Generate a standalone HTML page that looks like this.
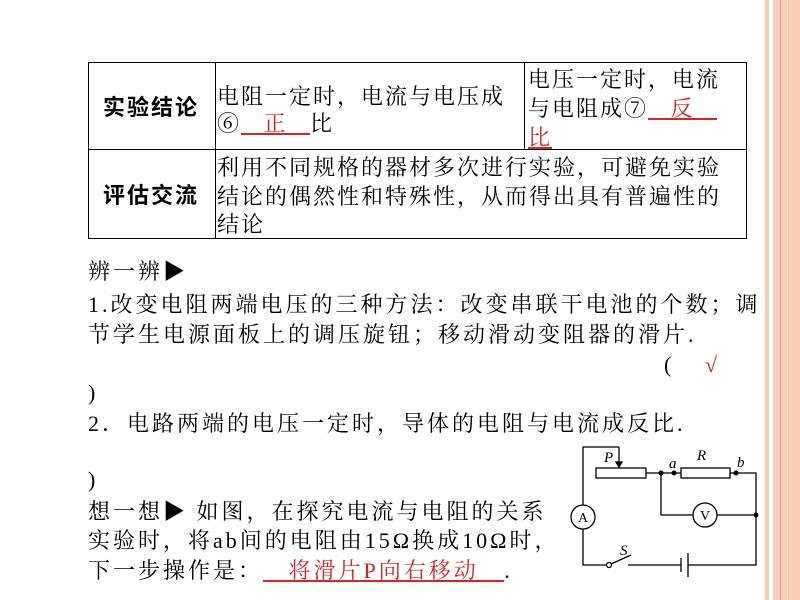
<!DOCTYPE html>
<html><head><meta charset="utf-8"><style>
body{margin:0;width:800px;height:600px;position:relative;background:#fff;overflow:hidden;font-family:"Liberation Serif","Noto Serif CJK SC","Noto Sans CJK SC",serif;color:#000}
.t{position:absolute;font-size:22px;line-height:26px;white-space:nowrap}
.s{letter-spacing:3px}
.c{letter-spacing:2px}
.b{font-family:"Liberation Sans","Noto Sans CJK SC",sans-serif;font-weight:bold;letter-spacing:2px}
.r{color:#d22;text-decoration:underline;text-decoration-color:#d22}
.ln{position:absolute;background:#000}
</style></head><body>
<div style="position:absolute;left:765px;top:0;width:4px;height:600px;background:#f9cdb9"></div>
<div style="position:absolute;left:773px;top:0;width:27px;height:600px;background:#f9cdb9"></div>
<div style="position:absolute;left:780px;top:0;width:1px;height:600px;background:#f0a070"></div>
<div style="position:absolute;left:787px;top:0;width:1px;height:600px;background:#fbe0d2"></div>

<div class="ln" style="left:88px;top:62px;width:659px;height:1px"></div>
<div class="ln" style="left:88px;top:149px;width:659px;height:1px"></div>
<div class="ln" style="left:88px;top:238px;width:659px;height:1px"></div>
<div class="ln" style="left:88px;top:62px;width:1px;height:177px"></div>
<div class="ln" style="left:215px;top:62px;width:1px;height:177px"></div>
<div class="ln" style="left:524px;top:62px;width:1px;height:88px"></div>
<div class="ln" style="left:746px;top:62px;width:1px;height:177px"></div>

<div class="t b" style="left:103px;top:95px">实验结论</div>
<div class="t b" style="left:103px;top:183px">评估交流</div>
<div class="t c" style="left:217px;top:84px">电阻一定时，电流与电压成</div>
<div class="t c" style="left:217px;top:111px">⑥<span class="r">&nbsp;&nbsp;&nbsp;正&nbsp;&nbsp;&nbsp;</span>比</div>
<div class="t c" style="left:528px;top:67px">电压一定时，电流</div>
<div class="t c" style="left:528px;top:96px">与电阻成⑦<span class="r">&nbsp;&nbsp;&nbsp;反&nbsp;&nbsp;&nbsp;</span></div>
<div class="t c" style="left:528px;top:125px"><span class="r">比</span></div>
<div class="t c" style="left:217px;top:155px">利用不同规格的器材多次进行实验，可避免实验</div>
<div class="t c" style="left:217px;top:184px">结论的偶然性和特殊性，从而得出具有普遍性的</div>
<div class="t c" style="left:217px;top:212px">结论</div>

<div class="t s" style="left:88px;top:259px">辨一辨▶</div>
<div class="t s" style="left:88px;top:292px">1.改变电阻两端电压的三种方法：改变串联干电池的个数；调</div>
<div class="t s" style="left:88px;top:322px">节学生电源面板上的调压旋钮；移动滑动变阻器的滑片.</div>
<div class="t" style="left:664px;top:352px">(</div>
<div class="t" style="left:705px;top:352px;color:#d22">√</div>
<div class="t" style="left:88px;top:380px">)</div>
<div class="t s" style="left:88px;top:411px">2．电路两端的电压一定时，导体的电阻与电流成反比.</div>
<div class="t" style="left:88px;top:467px">)</div>
<div class="t s" style="left:88px;top:499px">想一想▶ 如图，在探究电流与电阻的关系</div>
<div class="t s" style="left:88px;top:528px">实验时，将ab间的电阻由15Ω换成10Ω时，</div>
<div class="t s" style="left:88px;top:558px">下一步操作是：<span class="r">&nbsp;&nbsp;&nbsp;将滑片P向右移动&nbsp;&nbsp;&nbsp;</span>.</div>

<svg style="position:absolute;left:0;top:0" width="800" height="600">
<g stroke="#000" stroke-width="1.3" fill="none">
<polyline points="619,447 583,447 583,505"/>
<line x1="619" y1="447" x2="619" y2="465"/>
<polygon points="616,462 622,462 619,467" fill="#000"/>
<rect x="596" y="468" width="50" height="10" fill="#fff"/>
<line x1="646" y1="473" x2="681" y2="473"/>
<rect x="681" y="468" width="49" height="10" fill="#fff"/>
<polyline points="730,473 756,473 756,565 688,565"/>
<polyline points="661,473 661,515 693,515"/>
<line x1="717" y1="515" x2="756" y2="515"/>
<circle cx="705" cy="515" r="12" fill="#fff"/>
<circle cx="583" cy="517" r="12" fill="#fff"/>
<polyline points="583,529 583,565 606,565"/>
<circle cx="609" cy="565" r="2.5"/>
<line x1="611" y1="564" x2="631" y2="555"/>
<line x1="628" y1="565" x2="681" y2="565"/>
<line x1="681" y1="558" x2="681" y2="572"/>
<line x1="688" y1="553" x2="688" y2="577"/>
</g>
<g fill="#000">
<circle cx="661" cy="473" r="2.5"/><circle cx="674" cy="473" r="2.5"/><circle cx="736" cy="473" r="2.5"/><circle cx="756" cy="515" r="2.5"/>
</g>
<g font-family="Liberation Serif,serif" font-size="15" font-style="italic">
<text x="604" y="462">P</text><text x="697" y="460">R</text><text x="669" y="468">a</text><text x="737" y="467">b</text><text x="620" y="555">S</text>
</g>
<g font-family="Liberation Serif,serif" font-size="14" text-anchor="middle">
<text x="583" y="522">A</text><text x="705" y="520">V</text>
</g>
</svg>
</body></html>
